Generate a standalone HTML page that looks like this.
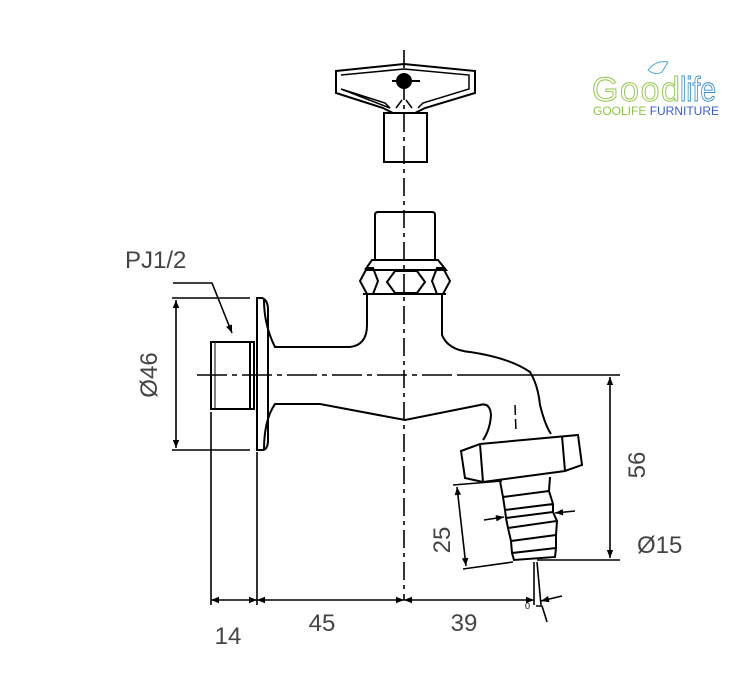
<!DOCTYPE html>
<html><head><style>body{margin:0;background:#fff}svg{display:block}</style></head><body>
<svg width="742" height="698" viewBox="0 0 742 698" xmlns="http://www.w3.org/2000/svg" font-family="Liberation Sans, sans-serif">
<defs><marker id="a" viewBox="0 0 10 10" refX="10" refY="5" markerWidth="10" markerHeight="8" orient="auto-start-reverse" markerUnits="userSpaceOnUse"><path d="M0,1 L10,5 L0,9 z" fill="#000"/></marker></defs>
<g fill="none" stroke="#000" stroke-width="2">
<line x1="404" y1="50" x2="404" y2="600" stroke-dasharray="18,5,4,5" stroke-width="1.6"/>
<line x1="197" y1="375" x2="458" y2="375" stroke-dasharray="30,5,5,5" stroke-width="1.6"/>
<line x1="458" y1="375" x2="620" y2="375" stroke-width="1.6"/>
<path d="M336,71 L404,64 L475,71 L475,93 L425,108 L415,113 L393,113 L383,108 L336,93 Z"/>
<path d="M341,75 L404,69 L469,75 L469,89 L423,103 L418,108 M390,108 L385,103 L341,89 Z" stroke-width="1.5"/>
<path d="M396,108 L402,100 M412,108 L406,100" stroke-width="1.5"/>
<circle cx="404" cy="81" r="7" fill="#000"/>
<line x1="392" y1="81" x2="420" y2="81"/>
<rect x="384" y="113" width="43" height="49"/>
<path d="M375,260 L375,215 Q375,212 378,212 L432,212 Q435,212 435,215 L435,260"/>
<path d="M365,270 L372,260 L438,260 L446,270 L365,270 M363,294 L446,294"/>
<path d="M367,268 L360,281 L367,294 L373,294 L378,281 L373,268Z M443,268 L450,281 L443,294 L437,294 L432,281 L437,268Z M395,271 L417,271 L425,282 L417,293 L395,293 L387,282Z"/>
<path d="M264,300 Q264,325 275,347 L350,347 Q367,345 367,325 L367,294"/>
<path d="M442,294 L442,335 Q448,350 470,352 Q510,358 530,372 Q538,385 540,405 Q545,425 551,434"/>
<path d="M264,450 Q264,420 275,404 L320,404 L405,420 L480,405 Q490,402 491,415 Q490,430 483,440"/>
<path d="M257,298 L262,298 Q268,300 268,310 L268,440 Q268,450 262,450 L257,450 Z"/>
<rect x="211" y="342" width="43" height="67"/>
<line x1="250" y1="342" x2="250" y2="409"/>
<line x1="215" y1="342" x2="215" y2="409" stroke-width="1"/>
<path d="M461,451 L480,444 L578,435 L582,465 L565,471 L483,482 L465,478 Z"/>
<line x1="480" y1="444" x2="483" y2="482"/><line x1="562" y1="436" x2="565" y2="471"/>
<line x1="515" y1="405" x2="516" y2="432" stroke-dasharray="10,4" stroke-width="1.5"/>
<path d="M500,481 L503,497 L549,491 L550,477"/>
<path d="M503,497 L505,510 L553,504 L549,491 M505,510 L506,518 L553,512 L553,504 M506,518 L508,528 L557,521 L553,512 M508,528 L511,541 L556,535 L557,521 M511,541 L512,553 L556,548 L556,535 L511,541 M512,553 L514,560 L555,557 L556,548"/>
<line x1="172" y1="298" x2="250" y2="298" stroke-width="1.6"/>
<line x1="172" y1="450" x2="250" y2="450" stroke-width="1.6"/>
<line x1="176" y1="300" x2="176" y2="448" stroke-width="1.6" marker-start="url(#a)" marker-end="url(#a)"/>
<path d="M173,283 L212,283 L232,333" stroke-width="1.6" marker-end="url(#a)"/>
<g stroke-width="1.6">
<line x1="211" y1="412" x2="211" y2="605"/>
<line x1="257" y1="452" x2="257" y2="605"/>
<line x1="534" y1="562" x2="534" y2="605"/>
<line x1="537" y1="562" x2="541" y2="605"/>
<line x1="211" y1="600" x2="257" y2="600" marker-start="url(#a)" marker-end="url(#a)"/>
<line x1="257" y1="600" x2="404" y2="600" marker-start="url(#a)" marker-end="url(#a)"/>
<line x1="404" y1="600" x2="534" y2="600" marker-start="url(#a)" marker-end="url(#a)"/>
<line x1="562" y1="596" x2="541" y2="601" marker-end="url(#a)"/>
<path d="M536,606 L542,606 Q545,615 547,622"/>
<line x1="537" y1="560" x2="620" y2="560"/>
<line x1="610" y1="377" x2="610" y2="558" marker-start="url(#a)" marker-end="url(#a)"/>
<line x1="453" y1="485" x2="502" y2="481"/>
<line x1="463" y1="569" x2="513" y2="562"/>
<line x1="457" y1="487" x2="466" y2="566" marker-start="url(#a)" marker-end="url(#a)"/>
<line x1="484" y1="520" x2="504" y2="517" marker-end="url(#a)"/>
<line x1="575" y1="511" x2="555" y2="513" marker-end="url(#a)"/>
</g>
</g>
<g fill="#444" font-size="24">
<text x="125" y="268">PJ1/2</text>
<text transform="translate(157,375) rotate(-90)" text-anchor="middle">Ø46</text>
<text x="228" y="644" text-anchor="middle">14</text>
<text x="322" y="631" text-anchor="middle">45</text>
<text x="464" y="631" text-anchor="middle">39</text>
<text transform="translate(645,465) rotate(-90)" text-anchor="middle">56</text>
<text transform="translate(450,540) rotate(-90)" text-anchor="middle">25</text>
<text x="637" y="553">Ø15</text>
<text x="525" y="609" font-size="9" fill="#000">0</text>
</g>
<g>
<text x="592" y="101" font-size="34" fill="none" stroke="#8cc63f" stroke-width="0.9" textLength="88">Good</text>
<text x="680" y="101" font-size="34" fill="none" stroke="#2e8bd0" stroke-width="0.9" textLength="36" lengthAdjust="spacingAndGlyphs">life</text>
<path d="M648,70 Q656,60 668,62 L662,72 Q655,76 648,70Z" fill="none" stroke="#4aa8d8" stroke-width="1"/>
<text x="593" y="115" font-size="12" fill="#8cc63f">GOOLIFE <tspan fill="#3a5fcd">FURNITURE</tspan></text>
</g>
</svg>
</body></html>
